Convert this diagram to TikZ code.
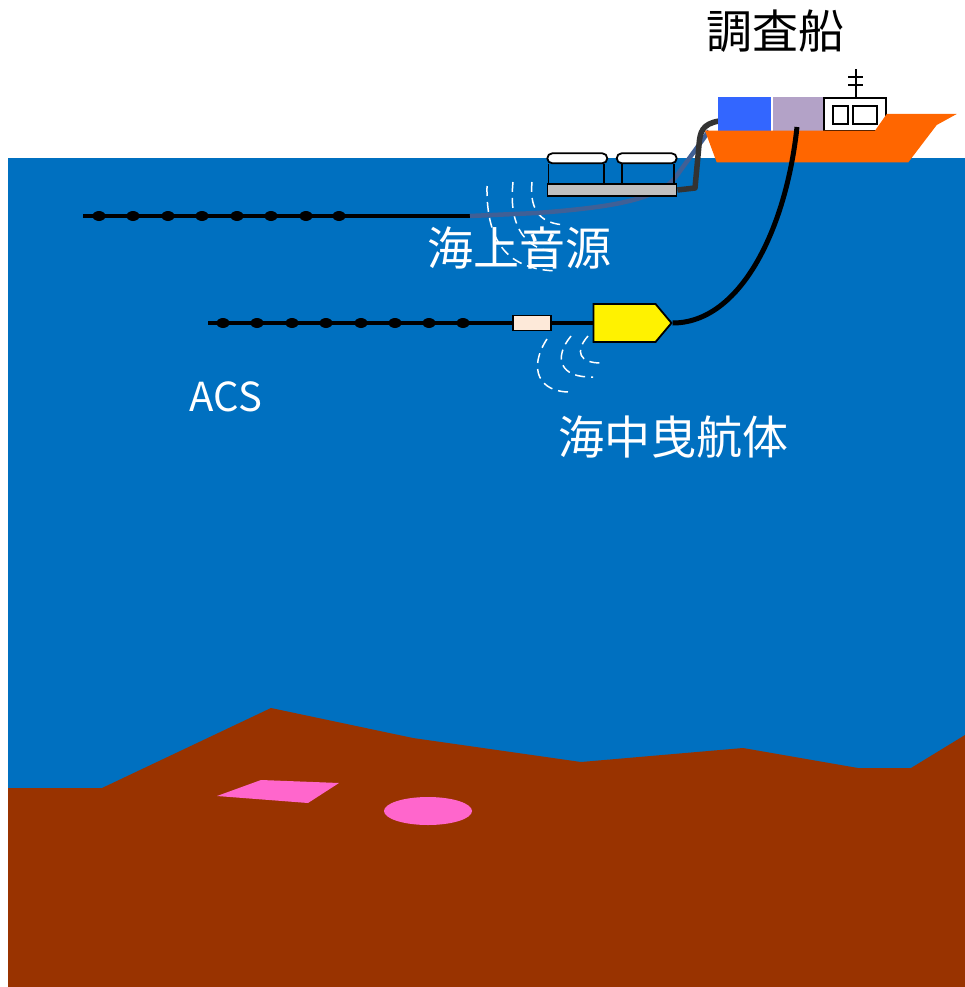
\documentclass[tikz,border=0pt]{standalone}
\usepackage{fontspec}
\setmainfont{Noto Sans CJK JP}
\usetikzlibrary{shapes.symbols}
\definecolor{sea_blue}{RGB}{0,112,192}
\definecolor{seabed_brown}{RGB}{153,51,0}
\definecolor{target_pink}{RGB}{255,102,204}
\definecolor{hull_orange}{RGB}{255,102,0}
\definecolor{cargo_blue}{RGB}{51,102,255}
\definecolor{cargo_purple}{RGB}{179,162,199}
\definecolor{buoy_peach}{RGB}{253,233,217}
\definecolor{hose_grey}{RGB}{51,51,51}
\definecolor{streamer_slate}{RGB}{64,96,150}

\begin{document}
\begin{tikzpicture}[x=1pt, y=-1pt,
    label_text/.style={font=\fontsize{46}{50}\selectfont, inner sep=0pt},
    streamer/.style={line width=3.5pt, black},
    hydrophone/.style={fill=black},
    wave/.style={white, line width=1.5pt, dash pattern=on 10pt off 6pt},
    box/.style={draw, line width=1.8pt, inner sep=0pt}]

    \useasboundingbox (0,0) rectangle (965,987);

    % --- Begin Sea and Seabed ---
    \fill[sea_blue] (8,158) rectangle (965,987);
    \fill[seabed_brown] (8,788) -- (102,788) -- (271,708) -- (413,738) -- (581,762)
        -- (743,748) -- (858,768) -- (911,768) -- (965,735) -- (965,987) -- (8,987) -- cycle;
    \fill[target_pink] (261,780) -- (339,783) -- (308,803) -- (217,796) -- cycle;
    \fill[target_pink] (428,811) ellipse [x radius=44pt, y radius=14pt];
    % --- End Sea and Seabed ---

    % --- Begin Surface Streamer ---
    \coordinate (surf_tail) at (83,216);
    \coordinate (surf_head) at (470,216);
    \draw[streamer] (surf_tail) -- (surf_head);
    \foreach \x in {99,133,168,202,237,271,306,339}
        \fill[hydrophone] (\x,216) ellipse [x radius=6.5pt, y radius=5pt];
    % --- End Surface Streamer ---

    % --- Begin Deep Tow ---
    \node[box, fill=buoy_peach, minimum width=38pt, minimum height=15pt] (tail_buoy) at (532,323) {};
    \node[draw, line width=1.8pt, fill=yellow, signal, signal to=east, signal pointer angle=100,
          minimum width=78pt, minimum height=38pt, inner sep=0pt] (tow_fish) at (624.5,323) {};
    \coordinate (acs_tail) at (208,323);
    \draw[streamer] (acs_tail) -- (tail_buoy) -- (tow_fish);
    \foreach \x in {223,257,292,326,361,395,429,463}
        \fill[hydrophone] (\x,323) ellipse [x radius=6.5pt, y radius=5pt];

    % pulses from the towed body
    \draw[wave] (588,336) .. controls (574,352) and (580,363) .. (601,363);
    \draw[wave] (571,336) .. controls (553,358) and (560,378) .. (593,377);
    \draw[wave] (547,339) .. controls (528,368) and (538,393) .. (572,392);
    % --- End Deep Tow ---

    % pulses from the air guns
    \draw[wave] (487,186) .. controls (486,245) and (510,270) .. (558,271);
    \draw[wave] (513,182) .. controls (508,230) and (528,250) .. (556,252);
    \draw[wave] (532,182) .. controls (529,212) and (542,224) .. (566,225);

    % --- Begin Air Gun ---
    \coordinate (tow_point) at (709,131);
    \draw[streamer_slate, line width=4.5pt] (tow_point) -- (675,178)
        .. controls (655,202) and (600,208) .. (537,213) -- (surf_head);

    \node[box, fill=white, rounded corners=5pt, minimum width=60pt, minimum height=10pt] (float_a) at (577.3,158.3) {};
    \node[box, fill=white, rounded corners=5pt, minimum width=60pt, minimum height=10pt] (float_b) at (646.7,158.3) {};
    \node[box, fill=black!25, minimum width=129pt, minimum height=12pt] (gun_plate) at (612,190) {};
    \draw[line width=1.8pt] ([xshift=2pt]float_a.south west) -- ([xshift=2pt]float_a.south west |- gun_plate.north);
    \draw[line width=1.8pt] ([xshift=-4.5pt]float_a.south east) -- ([xshift=-4.5pt]float_a.south east |- gun_plate.north);
    \draw[line width=1.8pt] ([xshift=6pt]float_b.south west) -- ([xshift=6pt]float_b.south west |- gun_plate.north);
    \draw[line width=1.8pt] ([xshift=-3.5pt]float_b.south east) -- ([xshift=-3.5pt]float_b.south east |- gun_plate.north);

    \coordinate (gun_hose) at (719,121);
    \draw[hose_grey, line width=5.5pt, line join=round] (gun_hose) .. controls (702,124) and (700,132) .. (699,145)
        -- (695,188) -- (gun_plate.east);
    % --- End Air Gun ---

    % --- Begin Ship ---
    \node[fill=cargo_blue, minimum width=52.7pt, minimum height=34pt, inner sep=0pt] (cargo_a) at (744.6,113.7) {};
    \node[fill=cargo_purple, minimum width=52pt, minimum height=34pt, inner sep=0pt] (cargo_b) at (799,113.7) {};
    \node[box, fill=white, minimum width=62pt, minimum height=32.4pt] (bridge) at (855,114.5) {};
    \node[box, minimum width=14.4pt, minimum height=18.3pt] (window_a) at (840.5,114.8) {};
    \node[box, minimum width=24pt, minimum height=18.3pt] (window_b) at (864.7,114.8) {};
    \draw[line width=1.8pt] (bridge.north -| 856,0) -- (856,69);
    \draw[line width=1.8pt] (848,76.7) -- (863,76.7);
    \draw[line width=1.8pt] (848,85) -- (863,85);
    \fill[hull_orange] (705,130.7) -- (716.7,162.3) -- (908.3,162.3) -- (936.7,125) -- (956.7,114)
        -- (886.7,114) -- (875,130.7) -- cycle;
    % --- End Ship ---

    % Tow cable down to the towed body.
    \coordinate (winch) at (797,127);
    \draw[black, line width=5pt] (winch) .. controls (786,230) and (740,323) .. (tow_fish.east);

    % Labels.
    \node[label_text] (ship_label) at (775,31) {調査船};
    \node[label_text, white] (gun_label) at (519,248) {海上音源};
    \node[label_text, white] (fish_label) at (673,437) {海中曳航体};
    \node[label_text, white, font=\fontsize{40}{44}\selectfont] (acs_label) at (226,397) {ACS};

\end{tikzpicture}
\end{document}
